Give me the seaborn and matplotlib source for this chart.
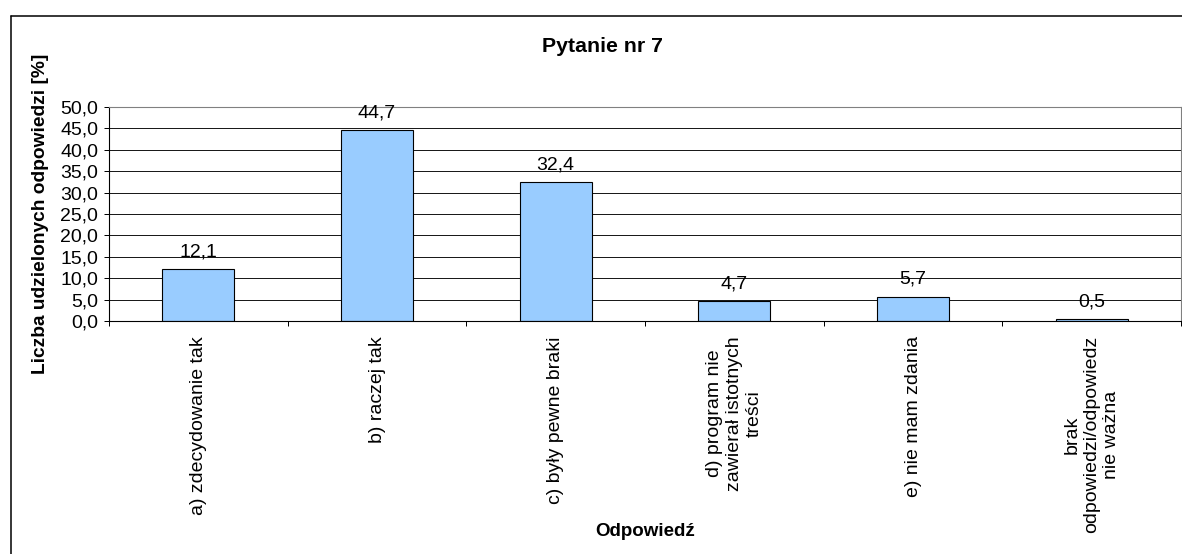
import numpy as np
import matplotlib
matplotlib.use("Agg")
import matplotlib.pyplot as plt
from matplotlib.lines import Line2D
import seaborn as sns

# ---- data ----
categories = [
    "a) zdecydowanie tak",
    "b) raczej tak",
    "c) były pewne braki",
    "d) program nie\nzawierał istotnych\ntreści",
    "e) nie mam zdania",
    "brak\nodpowiedzi/odpowiedz\nnie ważna",
]
values = [12.1, 44.7, 32.4, 4.7, 5.7, 0.5]
y_ticks = [0, 5, 10, 15, 20, 25, 30, 35, 40, 45, 50]
title = "Pytanie nr 7"
x_label = "Odpowiedź"
y_label = "Liczba udzielonych odpowiedzi [%]"

def fmt(v):
    return f"{v:.1f}".replace(".", ",")

sns.set_style("white")
plt.rcParams["font.family"] = ["Liberation Sans", "DejaVu Sans"]
plt.rcParams["text.color"] = "black"
plt.rcParams["axes.labelcolor"] = "black"
plt.rcParams["xtick.color"] = "black"
plt.rcParams["ytick.color"] = "black"

W, H = 1182, 554
fig = plt.figure(figsize=(W / 100, H / 100), dpi=100)
left, right, top, bottom = 109, 1181, 107, 321
ax = fig.add_axes([left / W, 1 - bottom / H, (right - left) / W, (bottom - top) / H])

sns.barplot(x=categories, y=values, color="#99CCFF", saturation=1,
            edgecolor="black", linewidth=0.8, width=0.403, ax=ax)

ax.set_xlim(-0.5, 5.5)
ax.set_ylim(0, 50)
ax.set_yticks(y_ticks)
ax.set_yticklabels([fmt(v) for v in y_ticks], fontsize=14, color="black")
ax.yaxis.grid(True, color="#1a1a1a", linewidth=0.72)
ax.xaxis.grid(False)
ax.set_axisbelow(True)

ax.set_xticks(range(len(categories)))
ax.set_xticklabels(categories, rotation=90, ha="center", va="top",
                   multialignment="center", fontsize=14, color="black")
ax.tick_params(axis="x", which="major", length=0, pad=10.8)
ax.set_xticks(np.arange(-0.5, len(categories), 1), minor=True)
ax.tick_params(axis="x", which="minor", bottom=True, length=3.6, width=0.72,
               direction="out", color="black")
ax.tick_params(axis="y", which="major", left=True, length=3.6, width=0.72,
               direction="out", color="black", pad=4.3)

for s in ["left", "bottom"]:
    ax.spines[s].set_color("black")
    ax.spines[s].set_linewidth(0.8)
for s in ["top", "right"]:
    ax.spines[s].set_visible(True)
    ax.spines[s].set_color("#808080")
    ax.spines[s].set_linewidth(0.8)

for i, v in enumerate(values):
    ax.annotate(fmt(v), (i, v), xytext=(0, 9.1), textcoords="offset points",
                ha="center", va="baseline", fontsize=14, color="black")

ax.set_ylabel(y_label, fontsize=13.8, fontweight="bold", va="center", color="black")
ax.yaxis.set_label_coords((41 - left) / (right - left), 0.5)
ax.set_xlabel(x_label, fontsize=13.5, fontweight="bold", va="center", color="black")
ax.xaxis.set_label_coords(0.5, (bottom - 532) / (bottom - top))

fig.text(602 / W, 1 - 46 / H, title, ha="center", va="center",
         fontsize=15.3, fontweight="bold", color="black")

# outer chart border (left and top visible)
fig.add_artist(Line2D([10.5 / W, 10.5 / W], [0, 1 - 15.5 / H],
                      transform=fig.transFigure, color="black", lw=1.1))
fig.add_artist(Line2D([10.5 / W, 1], [1 - 15.5 / H, 1 - 15.5 / H],
                      transform=fig.transFigure, color="black", lw=1.1))

fig.savefig("out.png", dpi=100, facecolor="white")
